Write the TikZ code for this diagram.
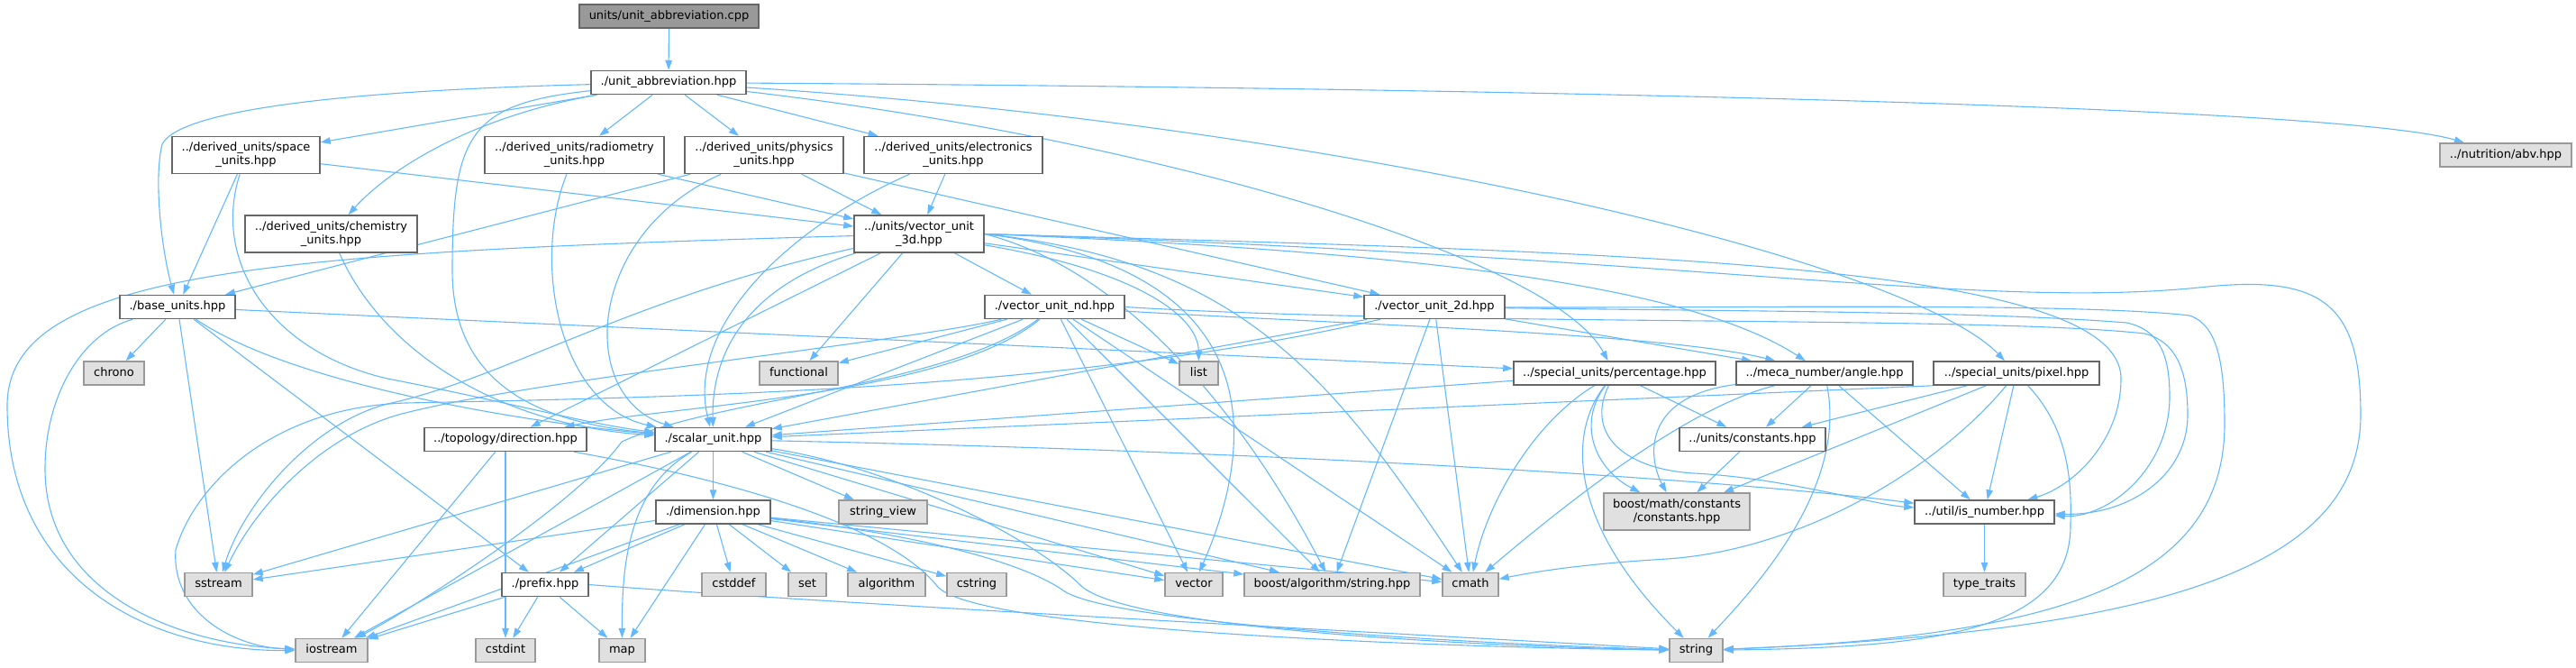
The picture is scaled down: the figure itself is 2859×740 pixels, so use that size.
\documentclass[tikz,border=0pt]{standalone}
\usepackage{fontspec}
\setmainfont{DejaVu Sans}
\usetikzlibrary{arrows.meta}
\pgfdeclarelayer{background}
\pgfsetlayers{background,main}
\definecolor{edgec}{HTML}{63B8FF}
\definecolor{docborder}{HTML}{666666}
\definecolor{sysfill}{HTML}{E0E0E0}
\definecolor{sysborder}{HTML}{999999}
\definecolor{rootfill}{HTML}{999999}
\newcommand\dxf{\fontsize{13pt}{15pt}\selectfont}
\tikzset{
  docnode/.style={draw=docborder, fill=white, line width=1.5pt, inner sep=0pt, minimum height=26pt, text height=9.6pt, text depth=3pt, font=\dxf},
  sysnode/.style={docnode, draw=sysborder, fill=sysfill},
  rootnode/.style={docnode, fill=rootfill},
  docnodeii/.style={draw=docborder, fill=white, line width=1.5pt, inner sep=0pt, minimum height=41pt, align=center, font=\dxf},
  sysnodeii/.style={docnodeii, draw=sysborder, fill=sysfill},
  lnk/.style={draw=edgec, line width=1.1pt, -{Triangle[length=11pt,width=7.5pt]}}
}
\begin{document}
\begin{tikzpicture}[x=1pt,y=-1pt]
\useasboundingbox (0,0) rectangle (2859,740);
% nodes
\node[rootnode, minimum width=199pt] (root) at (742.5,18) {units/unit\_abbreviation.cpp};
\node[docnode, minimum width=172pt] (uah) at (742,91.5) {./unit\_abbreviation.hpp};
\node[docnodeii, minimum width=164pt] (space) at (273,172) {../derived\_units/space\\\_units.hpp};
\node[docnodeii, minimum width=199pt] (radio) at (637.5,172) {../derived\_units/radiometry\\\_units.hpp};
\node[docnodeii, minimum width=176pt] (phys) at (848,172) {../derived\_units/physics\\\_units.hpp};
\node[docnodeii, minimum width=198pt] (elec) at (1058,172) {../derived\_units/electronics\\\_units.hpp};
\node[sysnode, minimum width=146pt] (abv) at (2781,172) {../nutrition/abv.hpp};
\node[docnodeii, minimum width=191pt] (chem) at (367.5,259.5) {../derived\_units/chemistry\\\_units.hpp};
\node[docnodeii, minimum width=144pt] (v3d) at (1020,259.5) {../units/vector\_unit\\\_3d.hpp};
\node[docnode, minimum width=128pt] (base) at (197,340.5) {./base\_units.hpp};
\node[docnode, minimum width=155pt] (vnd) at (1170.5,340.5) {./vector\_unit\_nd.hpp};
\node[docnode, minimum width=156pt] (v2d) at (1592,340.5) {./vector\_unit\_2d.hpp};
\node[sysnode, minimum width=67pt] (chrono) at (126.5,414) {chrono};
\node[sysnode, minimum width=87pt] (functional) at (886.5,414) {functional};
\node[sysnode, minimum width=43pt] (list) at (1330.5,414) {list};
\node[docnode, minimum width=224pt] (perc) at (1792,414) {../special\_units/percentage.hpp};
\node[docnode, minimum width=196pt] (angle) at (2025,414) {../meca\_number/angle.hpp};
\node[docnode, minimum width=184pt] (pixel) at (2238,414) {../special\_units/pixel.hpp};
\node[docnode, minimum width=180pt] (dir) at (561,487.5) {../topology/direction.hpp};
\node[docnode, minimum width=129pt] (scalar) at (791.5,487.5) {./scalar\_unit.hpp};
\node[docnode, minimum width=162pt] (const) at (1945,487.5) {../units/constants.hpp};
\node[docnode, minimum width=127pt] (dim) at (791.5,568) {./dimension.hpp};
\node[sysnode, minimum width=98pt] (sview) at (980,568) {string\_view};
\node[sysnodeii, minimum width=162pt] (bmath) at (1861,567.5) {boost/math/constants\\/constants.hpp};
\node[docnode, minimum width=155pt] (isnum) at (2202.5,568) {../util/is\_number.hpp};
\node[sysnode, minimum width=75pt] (sstream) at (242.5,648.5) {sstream};
\node[docnode, minimum width=96pt] (prefix) at (605,648.5) {./prefix.hpp};
\node[sysnode, minimum width=71pt] (cstddef) at (814.5,648.5) {cstddef};
\node[sysnode, minimum width=42pt] (nset) at (896,648.5) {set};
\node[sysnode, minimum width=86pt] (algo) at (984,648.5) {algorithm};
\node[sysnode, minimum width=66pt] (cstring) at (1084,648.5) {cstring};
\node[sysnode, minimum width=64pt] (vector) at (1325,648.5) {vector};
\node[sysnode, minimum width=195pt] (balg) at (1478.5,648.5) {boost/algorithm/string.hpp};
\node[sysnode, minimum width=62pt] (cmath) at (1632,648.5) {cmath};
\node[sysnode, minimum width=91pt] (ttraits) at (2202.5,648.5) {type\_traits};
\node[sysnode, minimum width=80pt] (iostream) at (368,721.5) {iostream};
\node[sysnode, minimum width=66pt] (cstdint) at (561,721.5) {cstdint};
\node[sysnode, minimum width=51pt] (map) at (690.5,721.5) {map};
\node[sysnode, minimum width=59pt] (nstring) at (1882.5,721.5) {string};
% edges
\begin{pgfonlayer}{background}
\draw[lnk] (root) -- (uah);
\draw[lnk] (uah) -- (space);
\draw[lnk] (uah) -- (radio);
\draw[lnk] (uah) -- (phys);
\draw[lnk] (uah) -- (elec);
\draw[lnk] (uah) .. controls (520,130) and (430,190) .. (chem);
\draw[lnk] (uah) .. controls (400,100) and (200,120) .. (180,160) .. controls (170,200) and (180,280) .. (base);
\draw[lnk] (uah) .. controls (520,115) and (502,150) .. (502,300) .. controls (502,440) and (620,470) .. (scalar);
\draw[lnk] (uah) .. controls (1250,150) and (1720,280) .. (perc);
\draw[lnk] (uah) .. controls (1500,140) and (2120,290) .. (pixel);
\draw[lnk] (uah) .. controls (1700,98) and (2600,118) .. (abv);
\draw[lnk] (space) -- (base);
\draw[lnk] (space) .. controls (235,290) and (300,390) .. (430,420) .. controls (560,445) and (650,470) .. (scalar);
\draw[lnk] (space) -- (v3d);
\draw[lnk] (radio) .. controls (590,290) and (620,450) .. (scalar);
\draw[lnk] (radio) -- (v3d);
\draw[lnk] (phys) -- (base);
\draw[lnk] (phys) .. controls (650,260) and (640,440) .. (scalar);
\draw[lnk] (phys) -- (v3d);
\draw[lnk] (phys) -- (v2d);
\draw[lnk] (elec) -- (v3d);
\draw[lnk] (elec) .. controls (880,250) and (760,360) .. (scalar);
\draw[lnk] (chem) .. controls (420,380) and (540,470) .. (scalar);
% base
\draw[lnk] (base) -- (chrono);
\draw[lnk] (base) -- (sstream);
\draw[lnk] (base) .. controls (90,370) and (50,440) .. (50,520) .. controls (50,660) and (200,715) .. (iostream);
\draw[lnk] (base) -- (prefix);
\draw[lnk] (base) .. controls (330,430) and (600,470) .. (scalar);
\draw[lnk] (base) -- (perc);
% v3d
\draw[lnk] (v3d) .. controls (300,280) and (8,300) .. (8,450) .. controls (8,640) and (160,722) .. (iostream);
\draw[lnk] (v3d) .. controls (700,330) and (560,420) .. (430,448) .. controls (345,470) and (270,560) .. (sstream);
\draw[lnk] (v3d) .. controls (820,320) and (790,400) .. (scalar);
\draw[lnk] (v3d) -- (dir);
\draw[lnk] (v3d) -- (functional);
\draw[lnk] (v3d) -- (vnd);
\draw[lnk] (v3d) .. controls (1260,300) and (1330,350) .. (list);
\draw[lnk] (v3d) -- (v2d);
\draw[lnk] (v3d.east) .. controls (1600,280) and (1880,320) .. (angle);
\draw[lnk] (v3d.east) .. controls (1800,280) and (2354,290) .. (2354,420) .. controls (2354,490) and (2300,540) .. (isnum);
\draw[lnk] (v3d.east) .. controls (1900,285) and (2200,345) .. (2450,318) .. controls (2580,305) and (2620,340) .. (2620,460) .. controls (2620,630) and (2400,700) .. (nstring);
\draw[lnk] (v3d.east) .. controls (1380,290) and (1480,420) .. (cmath);
\draw[lnk] (v3d.east) .. controls (1420,300) and (1390,500) .. (vector);
\draw[lnk] (v3d.east) .. controls (1250,300) and (1380,460) .. (balg);
% vnd
\draw[lnk] (vnd) -- (functional);
\draw[lnk] (vnd) -- (list);
\draw[lnk] (vnd) .. controls (1000,380) and (600,420) .. (450,458) .. controls (360,480) and (285,560) .. (sstream);
\draw[lnk] (vnd) .. controls (1050,430) and (800,440) .. (690,490) .. controls (640,560) and (450,680) .. (iostream);
\draw[lnk] (vnd) -- (scalar);
\draw[lnk] (vnd) .. controls (1050,440) and (740,450) .. (dir);
\draw[lnk] (vnd) .. controls (1500,360) and (1850,370) .. (angle);
\draw[lnk] (vnd.east) .. controls (1600,362) and (2200,350) .. (2380,370) .. controls (2420,380) and (2428,420) .. (2428,460) .. controls (2428,530) and (2360,572) .. (isnum);
\draw[lnk] (vnd) -- (cmath);
\draw[lnk] (vnd) -- (vector);
\draw[lnk] (vnd) -- (balg);
% v2d
\draw[lnk] (v2d) -- (scalar);
\draw[lnk] (v2d) -- (angle);
\draw[lnk] (v2d) .. controls (1900,345) and (2200,345) .. (2360,358) .. controls (2400,366) and (2408,400) .. (2408,440) .. controls (2408,520) and (2340,575) .. (isnum);
\draw[lnk] (v2d) .. controls (1900,342) and (2300,335) .. (2430,350) .. controls (2460,360) and (2469,400) .. (2469,470) .. controls (2469,640) and (2300,705) .. (nstring);
\draw[lnk] (v2d) -- (cmath);
\draw[lnk] (v2d) -- (balg);
\draw[lnk] (v2d) .. controls (1200,430) and (800,440) .. (450,447) .. controls (300,452) and (215,540) .. (195,610) .. controls (190,680) and (260,718) .. (iostream);
% percentage
\draw[lnk] (perc) -- (scalar);
\draw[lnk] (perc) -- (const);
\draw[lnk] (perc) .. controls (1750,470) and (1770,520) .. (bmath);
\draw[lnk] (perc) .. controls (1760,480) and (1800,520) .. (1880,525) .. controls (1980,530) and (2080,560) .. (isnum);
\draw[lnk] (perc) .. controls (1700,470) and (1650,560) .. (cmath);
\draw[lnk] (perc) .. controls (1740,480) and (1740,580) .. (nstring);
% angle
\draw[lnk] (angle) -- (const);
\draw[lnk] (angle) -- (isnum);
\draw[lnk] (angle) .. controls (2050,540) and (1950,650) .. (nstring);
\draw[lnk] (angle) .. controls (1820,440) and (1830,510) .. (bmath);
\draw[lnk] (angle) .. controls (1880,450) and (1760,540) .. (cmath);
% pixel
\draw[lnk] (pixel.south west) -- (scalar);
\draw[lnk] (pixel) -- (const);
\draw[lnk] (pixel) -- (bmath);
\draw[lnk] (pixel) .. controls (2150,520) and (2000,610) .. (1850,620) .. controls (1750,626) and (1700,635) .. (cmath);
\draw[lnk] (pixel) -- (isnum);
\draw[lnk] (pixel) .. controls (2290,470) and (2300,520) .. (2298,580) .. controls (2300,700) and (2150,718) .. (nstring);
% others
\draw[lnk] (const) -- (bmath);
\draw[lnk] (isnum) -- (ttraits);
\draw[lnk] (dir) -- (iostream);
\draw[lnk] (dir) -- (cstdint);
\draw[lnk] (dir) .. controls (880,545) and (1000,600) .. (1040,650) .. controls (1080,700) and (1600,718) .. (nstring);
% scalar
\draw[lnk] (scalar) -- (dim);
\draw[lnk] (scalar) -- (sview);
\draw[lnk] (scalar) -- (prefix);
\draw[lnk] (scalar) .. controls (700,540) and (690,620) .. (map);
\draw[lnk] (scalar) -- (sstream);
\draw[lnk] (scalar) -- (iostream);
\draw[lnk] (scalar) .. controls (1400,500) and (1900,530) .. (isnum);
\draw[lnk] (scalar) -- (cmath);
\draw[lnk] (scalar) -- (vector);
\draw[lnk] (scalar) -- (balg);
\draw[lnk] (scalar) .. controls (1000,520) and (1150,600) .. (1200,650) .. controls (1250,695) and (1600,716) .. (nstring);
% dimension
\draw[lnk] (dim) -- (sstream);
\draw[lnk] (dim) -- (prefix);
\draw[lnk] (dim) -- (iostream);
\draw[lnk] (dim) -- (map);
\draw[lnk] (dim) -- (cstddef);
\draw[lnk] (dim) -- (nset);
\draw[lnk] (dim) -- (algo);
\draw[lnk] (dim) -- (cstring);
\draw[lnk] (dim) -- (vector);
\draw[lnk] (dim) -- (balg);
\draw[lnk] (dim) -- (cmath);
\draw[lnk] (dim) .. controls (1000,590) and (1130,620) .. (1180,655) .. controls (1230,690) and (1600,713) .. (nstring);
% prefix
\draw[lnk] (prefix) -- (iostream);
\draw[lnk] (prefix) -- (cstdint);
\draw[lnk] (prefix) -- (map);
\draw[lnk] (prefix.east) .. controls (900,668) and (1500,700) .. (nstring);
\end{pgfonlayer}
\end{tikzpicture}
\end{document}
